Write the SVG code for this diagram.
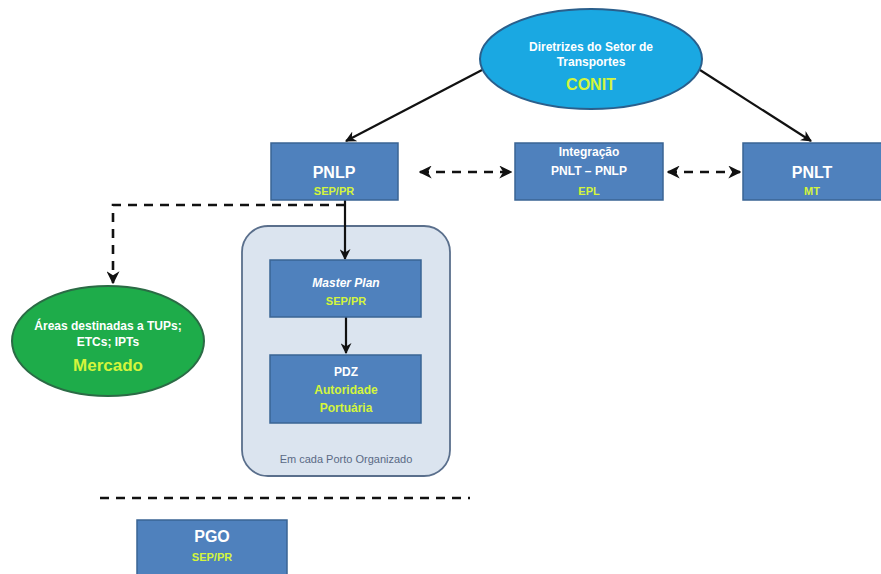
<svg xmlns="http://www.w3.org/2000/svg" width="881" height="574" viewBox="0 0 881 574">
<style>
.box{fill:#4f81bd;stroke:#3a6494;stroke-width:1.5}
.t{font-family:"Liberation Sans",Arial,sans-serif;font-weight:bold;text-anchor:middle;fill:#ffffff}
.y{fill:#d4f53c}
.ln{stroke:#111;stroke-width:2.2;fill:none}
.dash{stroke:#111;stroke-width:2.6;fill:none;stroke-dasharray:9,7}
</style>
<defs>
<marker id="ah" viewBox="0 0 10 10" refX="9" refY="5" markerWidth="5" markerHeight="5" orient="auto-start-reverse" markerUnits="strokeWidth">
<path d="M0,0 L10,5 L0,10 L3,5 Z" fill="#111"/>
</marker>
</defs>
<rect width="881" height="574" fill="#ffffff"/>
<g id="porto">
<rect x="242" y="226" width="208" height="250" rx="26" fill="#dbe4ef" stroke="#5a6f8c" stroke-width="1.8"/>
<text x="346" y="463" font-family="'Liberation Sans',Arial,sans-serif" font-size="11" text-anchor="middle" fill="#5a6a85">Em cada Porto Organizado</text>
</g>
<g id="connectors">
<line class="ln" x1="482" y1="70" x2="346" y2="141" marker-end="url(#ah)"/>
<line class="ln" x1="700" y1="70" x2="811" y2="141" marker-end="url(#ah)"/>
<line class="dash" x1="420" y1="172" x2="511" y2="172" marker-start="url(#ah)" marker-end="url(#ah)"/>
<line class="dash" x1="668" y1="172" x2="740" y2="172" marker-start="url(#ah)" marker-end="url(#ah)"/>
<polyline class="dash" points="345,205 113,205 113,283" marker-end="url(#ah)"/>
<line class="ln" x1="345" y1="200" x2="345" y2="259" marker-end="url(#ah)"/>
<line class="ln" x1="346" y1="317" x2="346" y2="353" marker-end="url(#ah)"/>
<line class="dash" x1="100" y1="498" x2="470" y2="498" stroke-dasharray="10,6"/>
</g>
<g id="conit">
<ellipse cx="591" cy="59" rx="111" ry="50" fill="#1aa8e2" stroke="#2a5f8c" stroke-width="2"/>
<text class="t" x="591" y="51" font-size="12">Diretrizes do Setor de</text>
<text class="t" x="591" y="66" font-size="12">Transportes</text>
<text class="t y" x="591" y="90" font-size="16">CONIT</text>
</g>
<g id="pnlp">
<rect class="box" x="271" y="143" width="127" height="57"/>
<text class="t" x="334" y="178" font-size="16">PNLP</text>
<text class="t y" x="334" y="195" font-size="11">SEP/PR</text>
</g>
<g id="integracao">
<rect class="box" x="515" y="143" width="148" height="57"/>
<text class="t" x="589" y="156" font-size="12">Integração</text>
<text class="t" x="589" y="175" font-size="12">PNLT – PNLP</text>
<text class="t y" x="589" y="195" font-size="11">EPL</text>
</g>
<g id="pnlt">
<rect class="box" x="743" y="143" width="140" height="57"/>
<text class="t" x="812" y="178" font-size="16">PNLT</text>
<text class="t y" x="812" y="195" font-size="11">MT</text>
</g>
<g id="mercado">
<ellipse cx="108" cy="341" rx="96" ry="55" fill="#1eac4a" stroke="#2b6b45" stroke-width="2"/>
<text class="t" x="108" y="330" font-size="12">Áreas destinadas a TUPs;</text>
<text class="t" x="108" y="346" font-size="12">ETCs; IPTs</text>
<text class="t y" x="108" y="371" font-size="17">Mercado</text>
</g>
<g id="masterplan">
<rect class="box" x="270" y="260" width="151" height="57"/>
<text class="t" x="346" y="287" font-size="12" font-style="italic">Master Plan</text>
<text class="t y" x="346" y="305" font-size="11">SEP/PR</text>
</g>
<g id="pdz">
<rect class="box" x="270" y="355" width="151" height="68"/>
<text class="t" x="346" y="376" font-size="12">PDZ</text>
<text class="t y" x="346" y="394" font-size="12">Autoridade</text>
<text class="t y" x="346" y="412" font-size="12">Portuária</text>
</g>
<g id="pgo">
<rect class="box" x="137" y="520" width="150" height="60"/>
<text class="t" x="212" y="542" font-size="16">PGO</text>
<text class="t y" x="212" y="561" font-size="11">SEP/PR</text>
</g>
</svg>
